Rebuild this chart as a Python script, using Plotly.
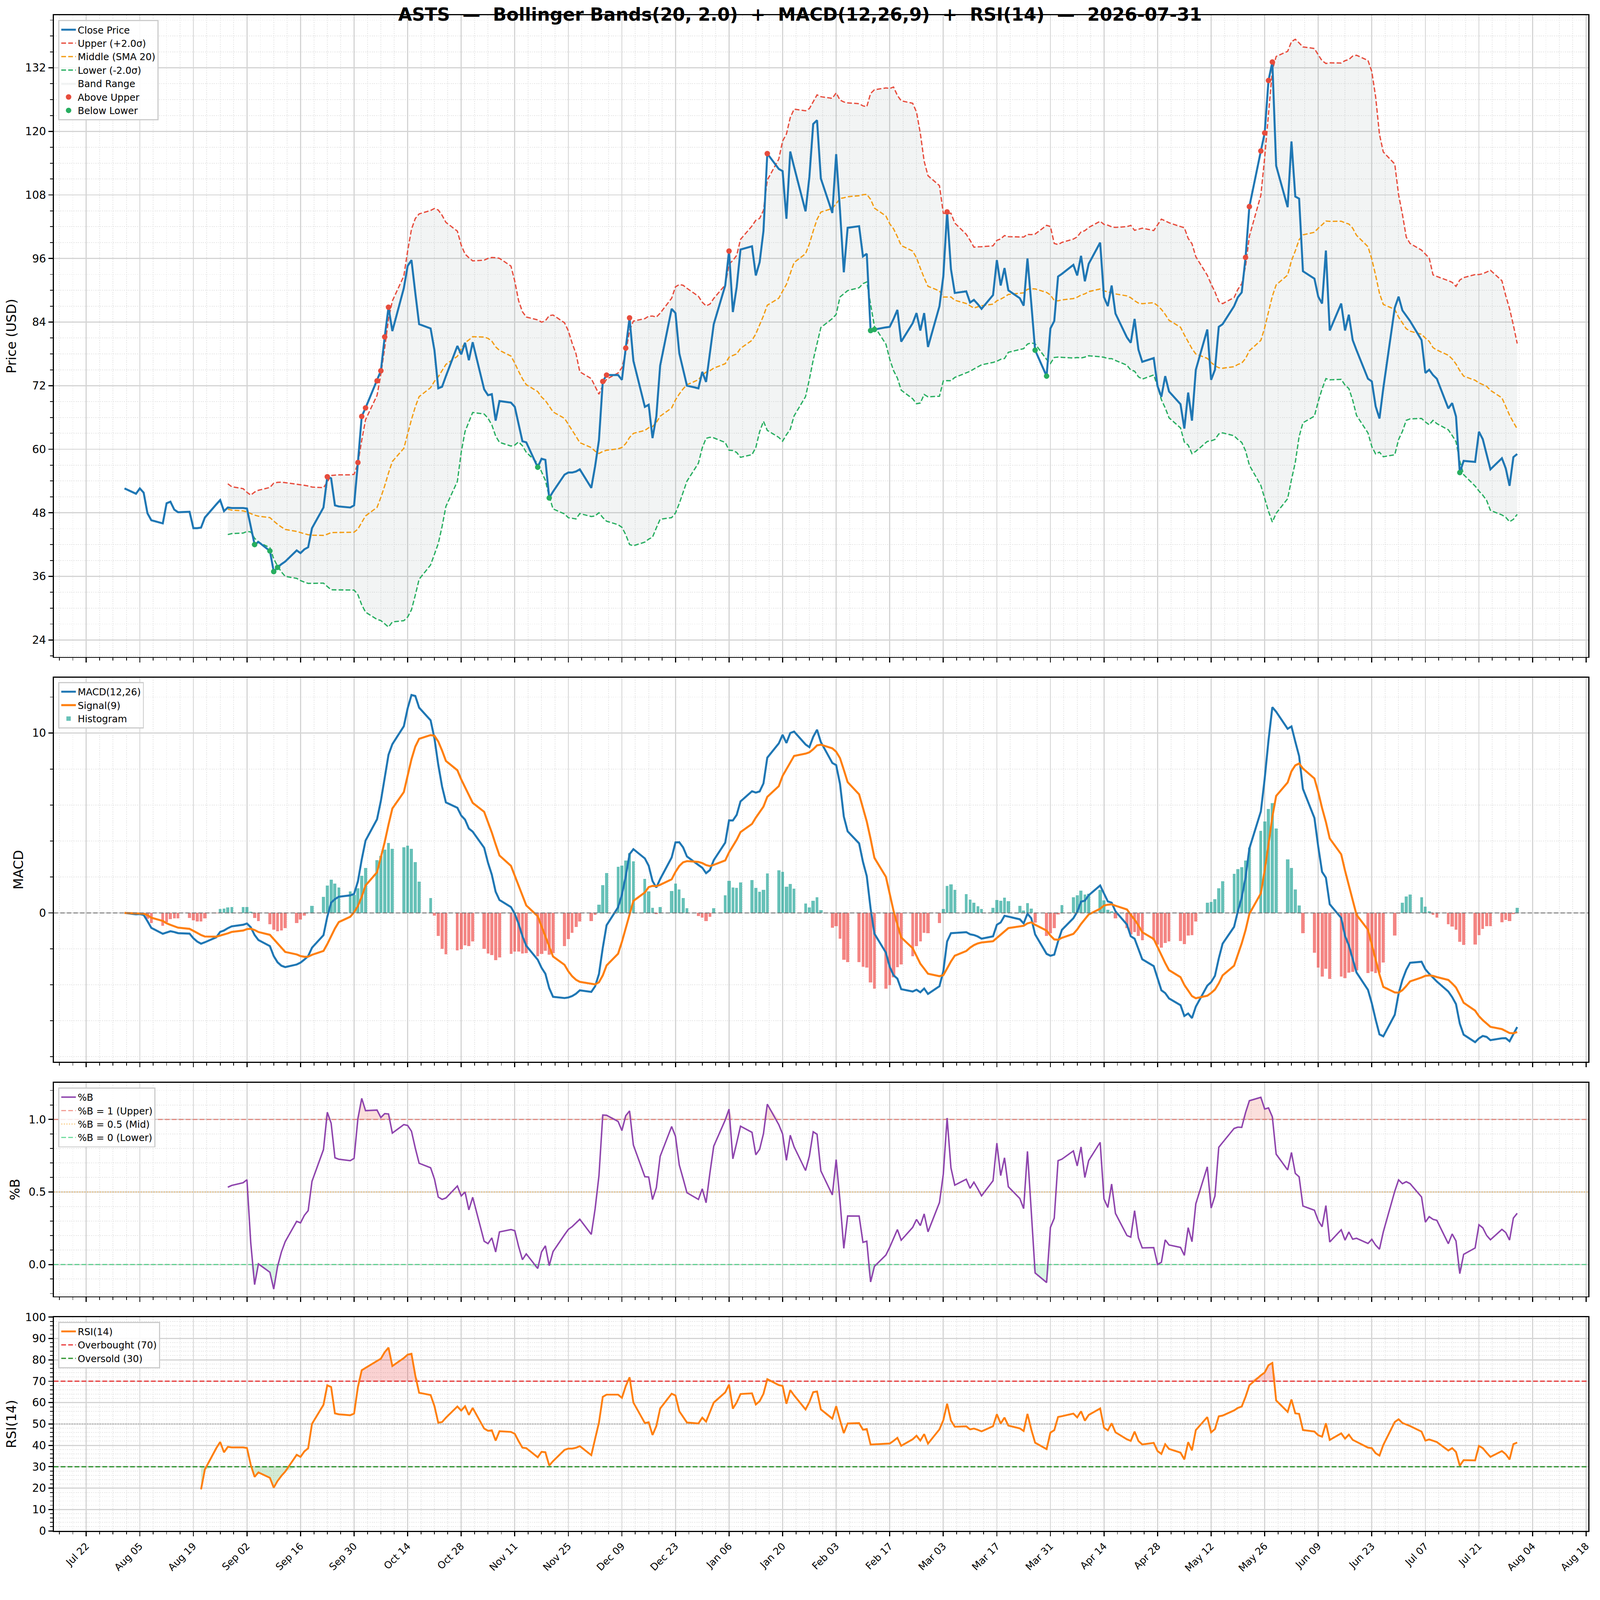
import numpy as np
import pandas as pd
import plotly.graph_objects as go

# ASTS daily closes, Bollinger / MACD / RSI dashboard

TICKER = "ASTS"
AS_OF = "2026-07-31"
BB_N, BB_K = 20, 2.0
FAST, SLOW, SIG = 12, 26, 9
RSI_N = 14

W, H = 4377, 4322

dates = pd.bdate_range("2025-08-01", "2026-07-31")

# closes, one per business day (month by month)
close = [
    52.6, 51.6, 52.6, 51.8, 47.9, 46.6, 46.0, 49.8, 50.1, 48.6, 48.1,            # Aug
    48.2, 45.1, 45.1, 45.2, 47.1, 49.6, 50.4, 48.3, 49.0, 48.9,
    48.9, 48.8, 45.4, 42.0, 42.5, 40.8, 36.9, 37.7, 38.3, 38.8, 40.9,            # Sep
    40.4, 41.1, 41.5, 45.1, 49.0, 54.8, 54.5, 49.4, 49.2, 49.0, 49.4,
    57.5, 66.2, 67.8, 72.9, 74.8, 81.2, 86.8, 82.3, 90.4, 94.6, 95.7, 89.5,      # Oct
    83.6, 82.8, 78.7, 71.5, 71.8, 73.8, 79.5, 77.9, 80.1, 76.8, 80.2,
    71.3, 70.2, 70.4, 65.4, 69.1, 68.8, 68.0, 64.7, 61.5, 61.3,                  # Nov
    56.6, 58.2, 58.0, 50.8, 52.0, 55.2, 55.6, 55.6, 55.8, 56.2,
    52.7, 56.8, 61.7, 72.8, 74.0, 74.0, 73.1, 79.1, 84.8, 76.7, 68.0, 68.4,      # Dec
    62.1, 66.2, 75.8, 86.5, 85.7, 78.1, 75.0, 72.0, 71.5, 74.6, 72.7,
    78.1, 83.6, 90.9, 97.4, 85.9, 90.6, 97.7, 98.3, 92.8, 95.3, 101.2,           # Jan
    115.8, 112.9, 112.5, 103.5, 116.2, 113.3, 104.9, 111.4, 121.4, 122.1, 111.1,
    104.6, 115.7, 105.1, 93.4, 101.8, 102.1, 96.4, 96.9, 82.4, 82.6,             # Feb
    83.0, 83.1, 84.6, 86.3, 80.3, 83.8, 85.7, 82.4, 85.7, 79.3,
    87.0, 92.6, 104.8, 94.0, 89.5, 89.8, 87.7, 88.2, 87.4, 86.5, 89.1,           # Mar
    95.7, 90.9, 94.2, 90.0, 88.5, 87.1, 96.0, 87.5, 78.7, 73.8, 82.8,
    84.2, 92.6, 93.1, 94.8, 92.8, 96.5, 91.7, 95.0, 99.0, 88.7, 87.0,            # Apr
    90.9, 85.6, 81.1, 80.1, 84.6, 78.8, 76.5, 77.2, 71.9, 69.9, 73.8,
    70.9, 68.5, 63.9, 70.7, 65.4, 75.0, 82.6, 73.1, 75.0, 83.1, 83.6,            # May
    87.0, 88.7, 89.6, 96.2, 105.8, 116.3, 119.7, 129.6, 133.1, 113.5,
    105.7, 118.1, 107.7, 107.3, 93.6, 92.2, 88.8, 87.5, 97.5, 82.4, 87.5,        # Jun
    82.4, 85.4, 80.6, 78.7, 73.3, 72.8, 68.1, 65.8, 71.5, 86.7, 88.8,
    86.2, 85.2, 84.2, 80.6, 74.4, 75.0, 74.0, 73.3, 67.7, 68.7, 66.2, 55.6,      # Jul
    57.8, 57.6, 63.3, 61.9, 59.0, 56.2, 58.3, 56.4, 53.1, 58.5, 59.1,
]

# axis windows as they appear in the picture
X_RANGE = ["2025-07-13 12:00", "2026-08-18 14:00"]
PRICE_RANGE = [20.8, 141.9]
MACD_RANGE = [-8.28, 13.08]
PB_RANGE = [-0.219, 1.253]
RSI_RANGE = [0, 100]

# ---- indicators
px_s = pd.Series(close, index=dates)
mid = px_s.rolling(BB_N).mean()
sd = px_s.rolling(BB_N).std()
upper = mid + BB_K * sd
lower = mid - BB_K * sd
pct_b = (px_s - lower) / (upper - lower)

ema_f = px_s.ewm(span=FAST, adjust=False).mean()
ema_s = px_s.ewm(span=SLOW, adjust=False).mean()
macd = ema_f - ema_s
signal = macd.ewm(span=SIG, adjust=False).mean()
hist = macd - signal

# Wilder smoothing
delta = px_s.diff()
gain = delta.clip(lower=0).ewm(alpha=1 / RSI_N, adjust=False, min_periods=RSI_N).mean()
loss = (-delta.clip(upper=0)).ewm(alpha=1 / RSI_N, adjust=False, min_periods=RSI_N).mean()
rsi = 100 - 100 / (1 + gain / loss)

bb_ok = mid.notna()
above = px_s[px_s > upper]
below = px_s[px_s < lower]

FONT = "DejaVu Sans"
BLUE = "#1f77b4"
ORANGE = "#ff7f0e"
RED = "#e74c3c"
GOLD = "#f39c12"
GREEN = "#27ae60"

fig = go.Figure()

# ---- price panel
bx = dates[bb_ok]
fig.add_trace(go.Scatter(x=bx, y=upper[bb_ok], mode="lines", line=dict(width=0),
                         showlegend=False, hoverinfo="skip", xaxis="x", yaxis="y"))
fig.add_trace(go.Scatter(x=bx, y=lower[bb_ok], mode="lines", line=dict(width=0),
                         fill="tonexty", fillcolor="rgba(149,165,166,0.12)",
                         name="Band Range", legendrank=5, xaxis="x", yaxis="y"))
fig.add_trace(go.Scatter(x=bx, y=upper[bb_ok], mode="lines", name="Upper (+2.0σ)",
                         line=dict(color=RED, width=3.5, dash="13px,6px"),
                         legendrank=2, xaxis="x", yaxis="y"))
fig.add_trace(go.Scatter(x=bx, y=mid[bb_ok], mode="lines", name="Middle (SMA 20)",
                         line=dict(color=GOLD, width=3.5, dash="13px,6px"),
                         legendrank=3, xaxis="x", yaxis="y"))
fig.add_trace(go.Scatter(x=bx, y=lower[bb_ok], mode="lines", name="Lower (-2.0σ)",
                         line=dict(color=GREEN, width=3.5, dash="13px,6px"),
                         legendrank=4, xaxis="x", yaxis="y"))
fig.add_trace(go.Scatter(x=dates, y=px_s, mode="lines", name="Close Price",
                         line=dict(color=BLUE, width=5.5), legendrank=1,
                         xaxis="x", yaxis="y"))
fig.add_trace(go.Scatter(x=above.index, y=above, mode="markers", name="Above Upper",
                         marker=dict(color=RED, size=15), legendrank=6,
                         xaxis="x", yaxis="y"))
fig.add_trace(go.Scatter(x=below.index, y=below, mode="markers", name="Below Lower",
                         marker=dict(color=GREEN, size=15), legendrank=7,
                         xaxis="x", yaxis="y"))

# ---- MACD panel
DAY = 86400000
pos = hist[hist >= 0]
neg = hist[hist < 0]
fig.add_trace(go.Bar(x=pos.index, y=pos, width=0.8 * DAY, name="Histogram",
                     marker=dict(color="rgba(38,166,154,0.7)", line_width=0),
                     legend="legend2", legendrank=3, xaxis="x2", yaxis="y2"))
fig.add_trace(go.Bar(x=neg.index, y=neg, width=0.8 * DAY, showlegend=False,
                     marker=dict(color="rgba(239,83,80,0.7)", line_width=0),
                     xaxis="x2", yaxis="y2"))
fig.add_trace(go.Scatter(x=dates, y=macd, mode="lines", name="MACD(12,26)",
                         line=dict(color=BLUE, width=5.5), legend="legend2",
                         legendrank=1, xaxis="x2", yaxis="y2"))
fig.add_trace(go.Scatter(x=dates, y=signal, mode="lines", name="Signal(9)",
                         line=dict(color=ORANGE, width=5.5), legend="legend2",
                         legendrank=2, xaxis="x2", yaxis="y2"))

# ---- %B panel
pb = pct_b[bb_ok]
fig.add_trace(go.Scatter(x=bx, y=np.ones(len(pb)), mode="lines", line=dict(width=0),
                         showlegend=False, hoverinfo="skip", xaxis="x3", yaxis="y3"))
fig.add_trace(go.Scatter(x=bx, y=np.maximum(pb, 1), mode="lines", line=dict(width=0),
                         fill="tonexty", fillcolor="rgba(231,76,60,0.18)",
                         showlegend=False, hoverinfo="skip", xaxis="x3", yaxis="y3"))
fig.add_trace(go.Scatter(x=bx, y=np.zeros(len(pb)), mode="lines", line=dict(width=0),
                         showlegend=False, hoverinfo="skip", xaxis="x3", yaxis="y3"))
fig.add_trace(go.Scatter(x=bx, y=np.minimum(pb, 0), mode="lines", line=dict(width=0),
                         fill="tonexty", fillcolor="rgba(46,204,113,0.18)",
                         showlegend=False, hoverinfo="skip", xaxis="x3", yaxis="y3"))
fig.add_trace(go.Scatter(x=X_RANGE, y=[1, 1], mode="lines", name="%B = 1 (Upper)",
                         line=dict(color="rgba(231,76,60,0.6)", width=3, dash="13px,6px"),
                         legend="legend3", legendrank=2, xaxis="x3", yaxis="y3"))
fig.add_trace(go.Scatter(x=X_RANGE, y=[0.5, 0.5], mode="lines", name="%B = 0.5 (Mid)",
                         line=dict(color="rgba(243,156,18,0.6)", width=2.5, dash="3px,4px"),
                         legend="legend3", legendrank=3, xaxis="x3", yaxis="y3"))
fig.add_trace(go.Scatter(x=X_RANGE, y=[0, 0], mode="lines", name="%B = 0 (Lower)",
                         line=dict(color="rgba(46,204,113,0.75)", width=3, dash="13px,6px"),
                         legend="legend3", legendrank=4, xaxis="x3", yaxis="y3"))
fig.add_trace(go.Scatter(x=bx, y=pb, mode="lines", name="%B",
                         line=dict(color="#8e44ad", width=4), legend="legend3",
                         legendrank=1, xaxis="x3", yaxis="y3"))

# ---- RSI panel
r_ok = rsi.notna()
rx = dates[r_ok]
rv = rsi[r_ok]
fig.add_trace(go.Scatter(x=rx, y=np.full(len(rv), 70.0), mode="lines", line=dict(width=0),
                         showlegend=False, hoverinfo="skip", xaxis="x4", yaxis="y4"))
fig.add_trace(go.Scatter(x=rx, y=np.maximum(rv, 70), mode="lines", line=dict(width=0),
                         fill="tonexty", fillcolor="rgba(231,30,30,0.2)",
                         showlegend=False, hoverinfo="skip", xaxis="x4", yaxis="y4"))
fig.add_trace(go.Scatter(x=rx, y=np.full(len(rv), 30.0), mode="lines", line=dict(width=0),
                         showlegend=False, hoverinfo="skip", xaxis="x4", yaxis="y4"))
fig.add_trace(go.Scatter(x=rx, y=np.minimum(rv, 30), mode="lines", line=dict(width=0),
                         fill="tonexty", fillcolor="rgba(40,160,40,0.2)",
                         showlegend=False, hoverinfo="skip", xaxis="x4", yaxis="y4"))
fig.add_trace(go.Scatter(x=X_RANGE, y=[70, 70], mode="lines", name="Overbought (70)",
                         line=dict(color="rgba(230,30,30,0.85)", width=3.5, dash="13px,6px"),
                         legend="legend4", legendrank=2, xaxis="x4", yaxis="y4"))
fig.add_trace(go.Scatter(x=X_RANGE, y=[30, 30], mode="lines", name="Oversold (30)",
                         line=dict(color="rgba(30,140,30,0.9)", width=3.5, dash="13px,6px"),
                         legend="legend4", legendrank=3, xaxis="x4", yaxis="y4"))
fig.add_trace(go.Scatter(x=X_RANGE, y=[50, 50], mode="lines", showlegend=False,
                         line=dict(color="rgba(128,128,128,0.6)", width=2.5, dash="3px,4px"),
                         xaxis="x4", yaxis="y4"))
fig.add_trace(go.Scatter(x=rx, y=rv, mode="lines", name="RSI(14)",
                         line=dict(color=ORANGE, width=5), legend="legend4",
                         legendrank=1, xaxis="x4", yaxis="y4"))

# zero line of the MACD panel
fig.add_shape(type="line", xref="x2 domain", yref="y2", x0=0, x1=1, y0=0, y1=0,
              line=dict(color="rgba(110,110,110,0.8)", width=3, dash="12px,6px"),
              layer="above")

# ---- axes
GRID = "#d4d4d4"
MINOR_GRID = "#e6e6e6"


def xstyle(labels):
    return dict(
        type="date", range=X_RANGE, tick0="2025-07-22", dtick=14 * DAY,
        tickformat="%b %d", tickangle=-45, showticklabels=labels,
        tickfont=dict(size=27, color="black"), automargin=False,
        showline=True, linecolor="black", linewidth=3, mirror=True,
        ticks="outside", ticklen=12, tickwidth=3, tickcolor="black",
        showgrid=True, gridcolor=GRID, gridwidth=3, zeroline=False,
        minor=dict(tick0="2025-07-22", dtick=3.5 * DAY, ticks="outside", ticklen=7,
                   tickwidth=2, tickcolor="black", showgrid=True,
                   gridcolor=MINOR_GRID, gridwidth=2, griddash="dot"),
    )


def ystyle(dom, rng, dtick, minor, title, fmt=None):
    d = dict(
        domain=dom, range=rng, tick0=0, dtick=dtick, automargin=False,
        title=dict(text=title, font=dict(size=36, color="black"), standoff=14),
        tickfont=dict(size=30, color="black"),
        showline=True, linecolor="black", linewidth=3, mirror=True,
        ticks="outside", ticklen=12, tickwidth=3, tickcolor="black",
        showgrid=True, gridcolor=GRID, gridwidth=3, zeroline=False,
        minor=dict(dtick=minor, tick0=0, ticks="outside", ticklen=7, tickwidth=2,
                   tickcolor="black", showgrid=True, gridcolor=MINOR_GRID,
                   gridwidth=2, griddash="dot"),
    )
    if fmt:
        d["tickformat"] = fmt
    return d


def leg(ytop):
    return dict(x=0.003, y=ytop, xanchor="left", yanchor="top", traceorder="normal",
                bgcolor="rgba(255,255,255,0.85)", bordercolor="#cccccc",
                borderwidth=3, font=dict(size=26, color="black", family=FONT),
                tracegroupgap=0, itemwidth=40)


fig.update_layout(
    width=W, height=H,
    margin=dict(l=147, r=32, t=42, b=134),
    paper_bgcolor="white", plot_bgcolor="white",
    font=dict(family=FONT, color="black"),
    barmode="overlay", bargap=0,
    title=dict(
        text="<b>" + TICKER + "\u00a0\u00a0—\u00a0\u00a0Bollinger Bands(20, 2.0)\u00a0\u00a0+\u00a0\u00a0"
             "MACD(12,26,9)\u00a0\u00a0+\u00a0\u00a0RSI(14)\u00a0\u00a0—\u00a0\u00a0" + AS_OF + "</b>",
        x=0.5, xref="container", xanchor="center",
        y=1 - 40 / H, yref="container", yanchor="middle",
        font=dict(size=49, color="black", family=FONT),
    ),
    xaxis=dict(anchor="y", **xstyle(False)),
    xaxis2=dict(anchor="y2", matches="x", **xstyle(False)),
    xaxis3=dict(anchor="y3", matches="x", **xstyle(False)),
    xaxis4=dict(anchor="y4", matches="x", **xstyle(True)),
    yaxis=ystyle([0.5767, 1.0], PRICE_RANGE, 12, 3, "Price (USD)"),
    yaxis2=ystyle([0.3095, 0.5630], MACD_RANGE, 10, 2, "MACD"),
    yaxis3=ystyle([0.1548, 0.2957], PB_RANGE, 0.5, 0.1, "%B", ".1f"),
    yaxis4=ystyle([0.0, 0.1411], RSI_RANGE, 10, 2, "RSI(14)"),
    legend=leg(0.9969),
    legend2=leg(0.5601),
    legend3=leg(0.2926),
    legend4=leg(0.1380),
)
fig.layout.yaxis.anchor = "x"
fig.layout.yaxis2.anchor = "x2"
fig.layout.yaxis3.anchor = "x3"
fig.layout.yaxis4.anchor = "x4"

# fit the fixed-size figure into whatever viewport the page gets
fit_js = (
    "var gd=document.getElementById('{plot_id}');"
    "document.body.style.margin='0';document.body.style.overflow='hidden';"
    "var s=Math.min(window.innerWidth/%d, window.innerHeight/%d);"
    "if(s<0.999){gd.style.transformOrigin='0 0';gd.style.transform='scale('+s+')';}" % (W, H)
)

fig.write_html("out.html", post_script=fit_js, config={"displayModeBar": False})
